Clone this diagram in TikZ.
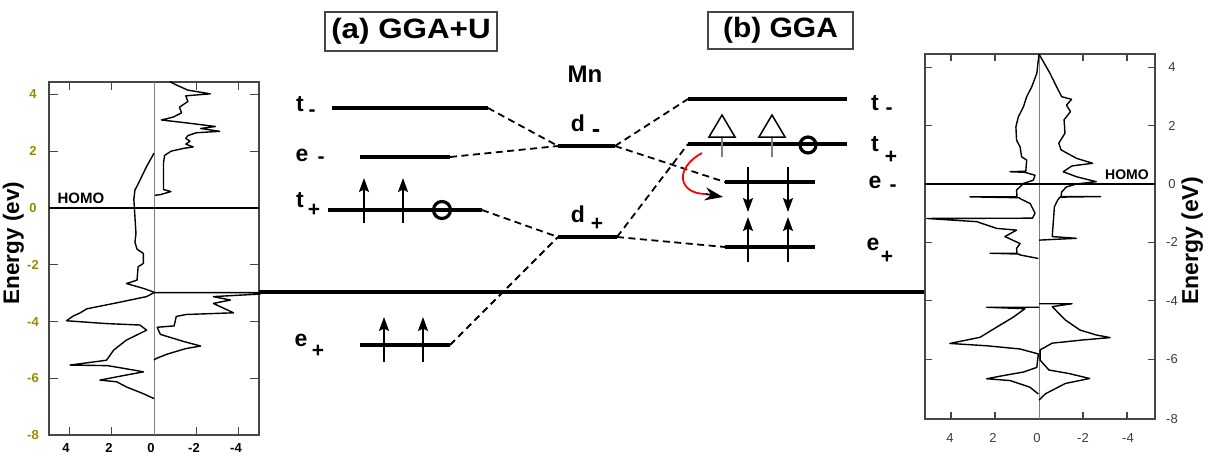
\documentclass[tikz,border=0pt]{standalone}
\usepackage{fontspec}
\setmainfont{Liberation Sans}
\usetikzlibrary{arrows.meta}
\definecolor{olivey}{RGB}{150,140,0}
\definecolor{framec}{RGB}{70,70,70}
\definecolor{axisgray}{RGB}{60,60,60}
\begin{document}
\begin{tikzpicture}[x=1pt,y=-1pt,
  level/.style={line width=4.5pt},
  link/.style={dash pattern=on 7pt off 4.5pt, line width=1.8pt},
  lbl/.style={font=\fontsize{23}{25}\selectfont\bfseries, inner sep=0pt},
  sublbl/.style={font=\fontsize{21}{23}\selectfont\bfseries, inner sep=0pt},
  spin/.style={line width=1.8pt, -{Stealth[length=14pt,width=10pt,inset=2.5pt]}},
  hole/.style={circle, draw, line width=3.2pt, minimum size=17pt, inner sep=0pt},
  dos/.style={line width=1.4pt, line join=round},
  panel/.style={draw=framec, line width=1.5pt},
  zeroline/.style={draw=gray, line width=1pt},
  homo/.style={line width=2.5pt},
  tick/.style={draw=framec, line width=1.2pt},
  titlebox/.style={draw=framec, line width=1.2pt, font=\fontsize{28}{30}\selectfont\bfseries, inner sep=0pt},
  lnum/.style={font=\fontsize{13}{14}\selectfont\bfseries, inner sep=0pt},
  rnum/.style={font=\fontsize{13}{14}\selectfont, text=axisgray, inner sep=0pt},
  ytitle/.style={font=\fontsize{22.5}{24}\selectfont\bfseries, rotate=90, anchor=base, inner sep=0pt},
  homolbl/.style={font=\fontsize{15}{16}\selectfont\bfseries, inner sep=0pt},
]
\useasboundingbox (0,0) rectangle (1212,456);

% ================= titles =================
\node[titlebox, minimum width=172pt, minimum height=39pt] (ta) at (411,31.5) {\scalebox{1.12}[1]{(a) GGA+U}};
\node[titlebox, minimum width=145pt, minimum height=37pt] (tb) at (780.5,30.5) {\scalebox{1.07}[1]{(b) GGA}};
\node[font=\fontsize{24}{26}\selectfont\bfseries, inner sep=0pt] (mn) at (585,74) {Mn};

% ================= left DOS panel =================
\draw[panel] (49,82) rectangle (259,435);
\foreach \px in {69.2,111.6,196.4,238.8}{
  \draw[tick] (\px,82) -- (\px,90);
  \draw[tick] (\px,435) -- (\px,427);
}
\foreach \py in {94.4,151.2,208,264.8,321.6,378.4}{
  \draw[tick] (49,\py) -- (58,\py);
  \draw[tick] (259,\py) -- (250,\py);
}
\foreach \v/\py in {4/94.4,2/151.2,0/208,-2/264.8,-4/321.6,-6/378.4,-8/435}{
  \node[lnum, text=olivey] (ly\v) at (33,\py) {\v};
}
\foreach \v/\px in {4/66,2/109,0/151,-2/194,-4/236}{
  \node[lnum] (lx\v) at (\px,448) {\v};
}
\node[ytitle] (leny) at (19,243) {Energy (ev)};
\draw[zeroline] (154,82) -- (154,435);
\draw[homo] (49,208) -- (259,208);
\node[homolbl] (lhomo) at (81,198) {HOMO};

\begin{scope}[shift={(154,208)}, xscale=-21.2, yscale=-28.4]
  % spin down upper
  \draw[dos] plot[sharp plot] coordinates {(-0.75,4.45) (-1.0,4.35) (-1.6,4.15) (-2.65,4.02) (-1.5,3.95) (-1.6,3.75) (-1.2,3.55) (-1.3,3.35) (-0.9,3.2) (-0.35,3.1) (-1.5,3.0) (-2.9,2.87) (-2.2,2.8) (-3.1,2.7) (-2.0,2.65) (-1.6,2.55) (-1.5,2.45) (-1.7,2.35) (-1.5,2.25) (-1.85,2.15) (-1.4,2.1) (-0.8,2.0) (-0.5,1.85) (-0.45,1.6) (-0.45,0.65) (-0.8,0.58) (-0.3,0.47) (-0.05,0.45)};
  % spin up upper
  \draw[dos] plot[sharp plot] coordinates {(0,1.93) (0.35,1.46) (0.74,0.86) (0.9,0.63) (0.95,0.3) (0.9,-0.3) (0.85,-0.9) (0.9,-1.2) (0.8,-1.45) (0.5,-1.6) (0.5,-1.95) (0.75,-2.07) (0.8,-2.54) (1.3,-2.66) (0.5,-2.83) (0.05,-2.95) (0,-2.98)};
  % spin down lower
  \draw[dos] plot[sharp plot] coordinates {(0,-2.98) (-5,-2.98) (-5,-3.03) (-2.8,-3.12) (-3.6,-3.24) (-2.8,-3.36) (-3.75,-3.69) (-1.5,-3.75) (-1.05,-3.82) (-0.95,-4.15) (-0.15,-4.2) (-0.3,-4.45) (-1.4,-4.7) (-2.2,-4.86) (-1.5,-4.95) (-0.6,-5.15) (-0.1,-5.3) (0,-5.35)};
  % spin up lower
  \draw[dos] plot[sharp plot] coordinates {(0,-2.98) (0.35,-3.12) (1.9,-3.36) (3.17,-3.55) (3.5,-3.7) (3.8,-3.8) (4.13,-3.97) (2.24,-4.07) (0.67,-4.12) (0.35,-4.3) (0.67,-4.42) (1.3,-4.65) (1.9,-5.0) (2.24,-5.36) (3.96,-5.53) (2.2,-5.55) (1.0,-5.7) (0.5,-5.77) (1.3,-5.88) (2.55,-6.06) (1.76,-6.12) (1.3,-6.3) (0.5,-6.54) (0,-6.71)};
\end{scope}

% ================= long reference line =================
\coordinate (longL) at (259,292);
\coordinate (longR) at (925,292);
\draw[line width=3.5pt] (longL) -- (longR);

% ================= level end points =================
\coordinate (atmL) at (332,108); \coordinate (atmR) at (488,108);
\coordinate (aemL) at (360,157); \coordinate (aemR) at (450,157);
\coordinate (atpL) at (328,210); \coordinate (atpR) at (482,210);
\coordinate (aepL) at (360,345); \coordinate (aepR) at (450,345);
\coordinate (dmL) at (558,146); \coordinate (dmR) at (615,146);
\coordinate (dpL) at (558,237); \coordinate (dpR) at (617,237);
\coordinate (btmL) at (688,99); \coordinate (btmR) at (847,99);
\coordinate (btpL) at (688,144); \coordinate (btpR) at (847,144);
\coordinate (bemL) at (725,182); \coordinate (bemR) at (815,182);
\coordinate (bepL) at (725,247); \coordinate (bepR) at (815,247);

\foreach \a/\b in {atmL/atmR,aemL/aemR,atpL/atpR,aepL/aepR,btmL/btmR,btpL/btpR,bemL/bemR,bepL/bepR}{
  \draw[level] (\a) -- (\b);
}
\draw[line width=4pt] (dmL) -- (dmR);
\draw[line width=4pt] (dpL) -- (dpR);

% dashed correlation lines
\foreach \a/\b in {atmR/dmL,aemR/dmL,atpR/dpL,aepR/dpL,dmR/btmL,dmR/bemL,dpR/btpL,dpR/bepL}{
  \draw[link] (\a) -- (\b);
}

% labels (a)
\node[lbl] (ltm) at (300,104) {t};  \node[sublbl] (ltms) at (312,113) {-};
\node[lbl] (lem) at (302,155) {e};  \node[sublbl] (lems) at (321,160) {-};
\node[lbl] (ltp) at (300,200) {t};  \node[sublbl] (ltps) at (314,210) {+};
\node[lbl] (lep) at (301,340) {e};  \node[sublbl] (leps) at (318,351) {+};
% Mn labels
\node[lbl] (ldm) at (578,123) {d};  \node[sublbl, scale=1.2] (ldms) at (596,133) {-};
\node[lbl] (ldp) at (578,214) {d};  \node[sublbl] (ldps) at (597,224) {+};
% labels (b)
\node[lbl] (rtm) at (875,103) {t};  \node[sublbl] (rtms) at (889,111) {-};
\node[lbl] (rtp) at (875,144) {t};  \node[sublbl] (rtps) at (891,157) {+};
\node[lbl] (rem) at (875,182) {e};  \node[sublbl] (rems) at (893,188) {-};
\node[lbl] (rep) at (873,244) {e};  \node[sublbl] (reps) at (887,257) {+};

% spins (a)
\foreach \px in {364,403}{
  \coordinate (au\px a) at (\px,223); \coordinate (au\px b) at (\px,178);
  \draw[spin] (au\px a) -- (au\px b);
}
\foreach \px in {384,423}{
  \coordinate (eu\px a) at (\px,362); \coordinate (eu\px b) at (\px,317);
  \draw[spin] (eu\px a) -- (eu\px b);
}
\node[hole] (holea) at (442,210) {};

% spins (b)
\foreach \px in {748,788}{
  \coordinate (bd\px a) at (\px,167); \coordinate (bd\px b) at (\px,212);
  \draw[spin] (bd\px a) -- (bd\px b);
  \coordinate (bu\px a) at (\px,262); \coordinate (bu\px b) at (\px,217);
  \draw[spin] (bu\px a) -- (bu\px b);
}
\foreach \px in {722,772}{
  \draw[gray, line width=1.3pt] (\px,137) -- (\px,157);
  \draw[line width=1.5pt, line join=miter, fill=white] (\px-13,137) -- (\px,115) -- (\px+13,137) -- cycle;
}
\node[hole, minimum size=16pt] (holeb) at (808,145) {};

% red transfer arrow
\coordinate (redA) at (702,153);
\coordinate (redB) at (706,194);
\coordinate (redC) at (723,197);
\draw[red, line width=1.8pt] (redA) .. controls (674,168) and (678,194) .. (redB);
\draw[line width=1.8pt, -{Stealth[length=18pt,width=13pt,inset=6pt]}] (redB) -- (redC);

% ================= right DOS panel =================
\draw[panel] (925,54) rectangle (1155,419);
\foreach \px in {951,995,1083,1127}{
  \draw[tick] (\px,54) -- (\px,61);
  \draw[tick] (\px,419) -- (\px,412);
}
\foreach \py in {67.2,125.6,184,242.4,300.8,359.2}{
  \draw[tick] (925,\py) -- (932,\py);
  \draw[tick] (1155,\py) -- (1148,\py);
}
\foreach \v/\py in {4/67.2,2/125.6,0/184,-2/242.4,-4/300.8,-6/359.2,-8/419}{
  \node[rnum] (ry\v) at (1172,\py) {\v};
}
\foreach \v/\px in {4/950,2/993,0/1037,-2/1083,-4/1128}{
  \node[rnum] (rx\v) at (\px,438) {\v};
}
\node[ytitle, font=\fontsize{23}{25}\selectfont\bfseries] (reny) at (1198,241) {Energy (eV)};
\draw[zeroline] (1039,54) -- (1039,419);
\draw[homo] (925,184) -- (1155,184);
\node[homolbl, font=\fontsize{14}{15}\selectfont\bfseries] (rhomo) at (1127,175) {HOMO};

\begin{scope}[shift={(1039,184)}, xscale=-22, yscale=-29.2]
  % spin down (right side)
  \draw[dos] plot[sharp plot] coordinates {(0,4.45) (-0.5,3.79) (-0.8,3.33) (-1.03,2.99) (-1.48,2.9) (-1.25,2.7) (-1.43,2.48) (-1.14,2.2) (-1.18,1.74) (-0.9,1.4) (-1.0,1.17) (-1.7,0.88) (-2.44,0.71) (-1.5,0.62) (-1.1,0.42) (-1.7,0.25) (-2.6,0.08) (-1.7,0) (-1.25,-0.1) (-1.03,-0.27) (-1.0,-0.43) (-2.8,-0.43) (-0.95,-0.45) (-0.85,-0.55) (-0.7,-0.78) (-0.6,-1.8) (-1.7,-1.86) (-0.05,-1.92) (0,-1.92)};
  \draw[dos] plot[sharp plot] coordinates {(0,-4.1) (-1.5,-4.1) (-0.6,-4.2) (-1.2,-4.66) (-1.86,-5.0) (-2.6,-5.17) (-3.23,-5.26) (-2.0,-5.34) (-0.6,-5.45) (-0.05,-5.68) (-0.05,-6.03) (-0.45,-6.37) (-1.36,-6.49) (-2.3,-6.66) (-1.2,-6.83) (-0.3,-7.18) (0,-7.4)};
  % spin up (left side)
  \draw[dos] plot[sharp plot] coordinates {(0,4.45) (0.1,3.79) (0.33,3.33) (0.56,2.99) (0.71,2.64) (0.94,2.3) (1.05,1.96) (1.02,1.5) (0.86,1.27) (0.79,0.93) (0.56,0.82) (0.6,0.44) (1.32,0.42) (0.64,0.4) (0.18,0.3) (0.26,0.13) (0.71,0.02) (1.02,-0.21) (1.0,-0.44) (3.14,-0.44) (0.9,-0.47) (0.86,-0.5) (0.4,-0.67) (0.18,-1.0) (0.3,-1.17) (5.1,-1.18) (2.83,-1.29) (1.92,-1.52) (1.02,-1.58) (1.55,-1.8) (0.86,-2.04) (1.02,-2.2) (1.0,-2.37) (2.23,-2.37) (0.9,-2.4) (0.86,-2.43) (0.03,-2.55)};
  \draw[dos] plot[sharp plot] coordinates {(0,-4.22) (2.38,-4.22) (0.64,-4.27) (1.17,-4.56) (1.92,-4.9) (2.68,-5.25) (4.05,-5.46) (2.38,-5.54) (0.86,-5.65) (0.03,-5.82) (0.1,-6.28) (0.71,-6.44) (1.62,-6.56) (2.38,-6.67) (1.32,-6.73) (0.41,-6.96) (0.03,-7.19)};
\end{scope}

\end{tikzpicture}
\end{document}
